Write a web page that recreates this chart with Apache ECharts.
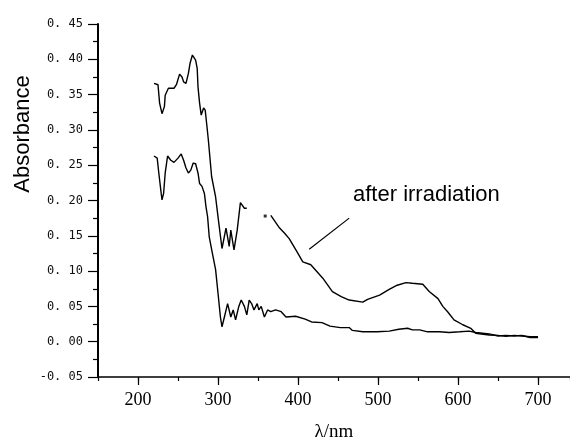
<!DOCTYPE html>
<html>
<head>
<meta charset="utf-8">
<script src="https://cdn.jsdelivr.net/npm/echarts@6/dist/echarts.min.js"></script>
<style>
html, body { margin: 0; padding: 0; background: #fff; }
#main { width: 570px; height: 439px; }
</style>
</head>
<body>
<div id="main"></div>
<script>
// tick labels
var xTicks = [200, 300, 400, 500, 600, 700];
var yTicks = [-0.05, 0, 0.05, 0.10, 0.15, 0.20, 0.25, 0.30, 0.35, 0.40, 0.45];

// upper curve, first part (up to ~336 nm)
var upperAWl = [220, 225, 227, 230, 233, 234, 238, 245, 248, 252, 255, 257, 260, 263, 265, 268, 272, 274, 275, 277, 279, 282, 284, 286, 288, 292, 297, 301, 305, 310, 314, 316, 320, 324, 328, 330, 333, 336];
var upperAAbs = [0.366, 0.364, 0.338, 0.323, 0.333, 0.349, 0.359, 0.359, 0.364, 0.379, 0.375, 0.368, 0.366, 0.380, 0.394, 0.406, 0.399, 0.387, 0.361, 0.338, 0.321, 0.331, 0.328, 0.307, 0.285, 0.234, 0.205, 0.168, 0.132, 0.161, 0.135, 0.158, 0.130, 0.158, 0.197, 0.198, 0.189, 0.189];

// lone dot in the gap
var dotWl = [359];
var dotAbs = [0.178];

// upper curve, second part (after irradiation)
var upperBWl = [366, 377, 383, 389, 399, 406, 416, 431, 443, 454, 464, 481, 487, 502, 514, 524, 535, 543, 556, 564, 575, 581, 587, 595, 606, 616, 622, 639, 650, 660, 670, 680, 690, 700];
var upperBAbs = [0.179, 0.161, 0.154, 0.146, 0.127, 0.113, 0.109, 0.090, 0.071, 0.064, 0.059, 0.056, 0.060, 0.066, 0.074, 0.080, 0.0836, 0.0827, 0.0813, 0.071, 0.061, 0.050, 0.0425, 0.031, 0.024, 0.019, 0.012, 0.0095, 0.009, 0.0075, 0.009, 0.008, 0.007, 0.007];

// lower curve
var lowerWl = [220, 224, 226, 229, 230, 232, 234, 237, 241, 245, 250, 254, 257, 260, 263, 266, 269, 272, 275, 277, 280, 283, 285, 287, 289, 293, 297, 300, 303, 305, 308, 312, 316, 319, 322, 326, 329, 333, 336, 339, 342, 345, 349, 351, 354, 358, 362, 366, 372, 379, 385, 397, 409, 417, 430, 440, 453, 464, 468, 481, 499, 514, 526, 537, 543, 552, 562, 577, 589, 602, 614, 622, 639, 650, 660, 670, 680, 690, 700];
var lowerAbs = [0.263, 0.260, 0.239, 0.210, 0.201, 0.210, 0.239, 0.263, 0.257, 0.254, 0.260, 0.266, 0.257, 0.246, 0.239, 0.243, 0.253, 0.252, 0.239, 0.224, 0.220, 0.210, 0.191, 0.177, 0.149, 0.125, 0.102, 0.069, 0.035, 0.021, 0.035, 0.054, 0.035, 0.045, 0.031, 0.050, 0.059, 0.050, 0.038, 0.059, 0.054, 0.045, 0.054, 0.045, 0.050, 0.035, 0.045, 0.0425, 0.045, 0.0425, 0.035, 0.036, 0.032, 0.028, 0.027, 0.022, 0.020, 0.020, 0.016, 0.014, 0.014, 0.015, 0.0176, 0.019, 0.0167, 0.0167, 0.014, 0.014, 0.013, 0.014, 0.015, 0.013, 0.011, 0.008, 0.009, 0.008, 0.009, 0.006, 0.006];

// pointer line ends (data units)
var pointerWl = [414, 464];
var pointerAbs = [0.131, 0.175];

function pairs(xs, ys) {
    return xs.map(function (x, i) { return [x, ys[i]]; });
}

var upperData = pairs(upperAWl, upperAAbs).concat([[347, null]], pairs(upperBWl, upperBAbs));

var chart = echarts.init(document.getElementById('main'));
var option = {
    animation: false,
    backgroundColor: '#fff',
    grid: {
        left: 98,
        right: 0,
        top: 24,
        bottom: 62,
        containLabel: false,
        outerBoundsMode: 'none'
    },
    xAxis: [{
        type: 'value',
        min: 150,
        max: 740,
        interval: 50,
        name: 'λ/nm',
        nameLocation: 'middle',
        nameGap: 46,
        nameTextStyle: {
            fontFamily: 'Liberation Serif',
            fontSize: 19,
            color: '#000'
        },
        splitLine: { show: false },
        axisLine: {
            onZero: false,
            lineStyle: { color: '#000', width: 1.5 }
        },
        axisTick: {
            length: 4,
            lineStyle: { color: '#000', width: 1.2 }
        },
        axisLabel: {
            customValues: xTicks,
            margin: 14,
            fontFamily: 'Liberation Serif',
            fontSize: 18,
            color: '#000'
        }
    }, {
        // long ticks at the labelled values
        type: 'value',
        position: 'bottom',
        min: 150,
        max: 740,
        splitLine: { show: false },
        axisLine: { show: false, onZero: false },
        axisLabel: { show: false },
        axisTick: {
            customValues: xTicks,
            length: 8,
            lineStyle: { color: '#000', width: 1.2 }
        }
    }],
    yAxis: {
        type: 'value',
        min: -0.05,
        max: 0.45,
        interval: 0.05,
        splitLine: { show: false },
        axisLine: {
            lineStyle: { color: '#000', width: 2 }
        },
        axisTick: {
            length: 10,
            lineStyle: { color: '#000', width: 1.2 }
        },
        minorTick: {
            show: true,
            splitNumber: 2,
            length: 5,
            lineStyle: { color: '#000', width: 1.2 }
        },
        axisLabel: {
            customValues: yTicks,
            margin: 15,
            fontFamily: 'DejaVu Sans Mono',
            fontSize: 12,
            color: '#111',
            formatter: function (v) {
                return v.toFixed(2).replace('.', '. ');
            }
        }
    },
    series: [{
        name: 'after irradiation',
        type: 'line',
        showSymbol: false,
        connectNulls: false,
        lineStyle: { color: '#000', width: 1.4 },
        data: upperData,
        markLine: {
            silent: true,
            symbol: 'none',
            label: { show: false },
            lineStyle: { color: '#000', width: 1.2, type: 'solid' },
            data: [[
                { coord: [pointerWl[0], pointerAbs[0]] },
                { coord: [pointerWl[1], pointerAbs[1]] }
            ]]
        }
    }, {
        name: 'dot',
        type: 'scatter',
        symbol: 'rect',
        symbolSize: 3,
        itemStyle: { color: '#000' },
        data: pairs(dotWl, dotAbs)
    }, {
        name: 'before',
        type: 'line',
        showSymbol: false,
        lineStyle: { color: '#000', width: 1.4 },
        data: pairs(lowerWl, lowerAbs)
    }],
    graphic: [{
        type: 'text',
        left: 353,
        top: 184,
        style: {
            text: 'after irradiation',
            fontFamily: 'Liberation Sans',
            fontSize: 22,
            fill: '#000'
        }
    }, {
        type: 'text',
        x: 12,
        y: 134,
        rotation: Math.PI / 2,
        style: {
            text: 'Absorbance',
            fontFamily: 'Liberation Sans',
            fontSize: 22,
            fill: '#000',
            align: 'center',
            verticalAlign: 'top'
        }
    }]
};
chart.setOption(option);
</script>
</body>
</html>
